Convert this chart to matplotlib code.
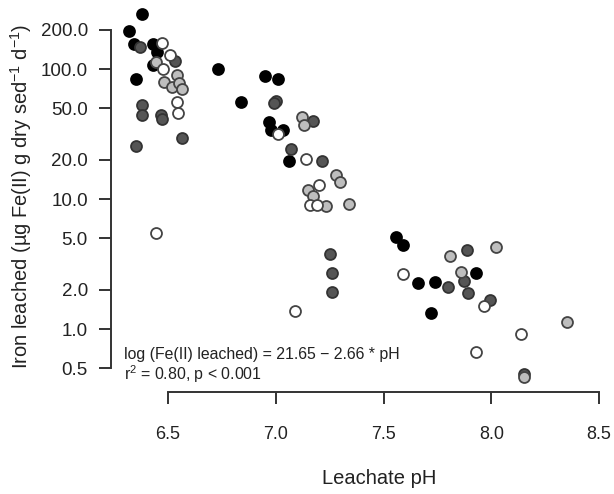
import numpy as np
import matplotlib
matplotlib.use("Agg")
import matplotlib.pyplot as plt
from matplotlib.ticker import FixedLocator, FixedFormatter, NullLocator

plt.rcParams['font.family'] = ['Liberation Sans', 'DejaVu Sans']
plt.rcParams['mathtext.fontset'] = 'custom'
plt.rcParams['mathtext.rm'] = 'Liberation Sans'

# ----- data (pH, Fe(II) leached) -----
black_ph = [6.32, 6.38, 6.34, 6.43, 6.448, 6.43, 6.35, 6.733, 6.95, 7.009, 6.839,
            6.969, 6.978, 7.032, 7.061, 7.558, 7.592, 7.662, 7.739, 7.929, 7.719]
black_fe = [196, 265, 156, 156, 136, 108, 84, 101, 89, 83.5, 56,
            39.5, 34, 34, 19.6, 5.14, 4.44, 2.25, 2.29, 2.69, 1.32]

dark_ph = [6.37, 6.532, 6.378, 6.378, 6.468, 6.472, 6.564, 6.35, 7.0, 6.99, 7.171,
           7.069, 7.213, 7.252, 7.26, 7.26, 7.80, 7.889, 7.873, 7.89, 7.994, 8.15]
dark_fe = [147, 116, 53, 44, 44, 41, 29.7, 25.6, 57, 54.6, 40,
           24.2, 19.6, 3.79, 2.69, 1.92, 2.1, 4.06, 2.35, 1.9, 1.67, 0.45]

light_ph = [6.443, 6.54, 6.48, 6.517, 6.553, 6.564, 7.12, 7.131, 7.278, 7.30, 7.151,
            7.171, 7.232, 7.341, 7.809, 7.86, 8.022, 8.35, 8.15]
light_fe = [113, 90, 79, 73, 78, 70, 43, 37.2, 15.3, 13.6, 11.7,
            10.6, 8.85, 9.2, 3.67, 2.77, 4.3, 1.13, 0.43]

white_ph = [6.47, 6.51, 6.478, 6.54, 6.548, 6.443, 7.012, 7.14, 7.20, 7.159, 7.19,
            7.089, 7.589, 7.968, 8.137, 7.929]
white_fe = [158, 128, 100, 56, 46, 5.5, 31.5, 20.2, 12.8, 9.0, 9.0,
            1.39, 2.64, 1.51, 0.91, 0.67]

x_ticks = [6.5, 7.0, 7.5, 8.0, 8.5]
x_labels = ["6.5", "7.0", "7.5", "8.0", "8.5"]
y_ticks = [0.5, 1, 2, 5, 10, 20, 50, 100, 200]
y_labels = ["0.5", "1.0", "2.0", "5.0", "10.0", "20.0", "50.0", "100.0", "200.0"]

W, H = 614, 494
fig = plt.figure(figsize=(W / 100, H / 100), dpi=100)
ax = fig.add_axes([111 / W, (H - 392) / H, (W - 111) / W, 392 / H])

groups = [(black_ph, black_fe, "#000000", "#000000"),
          (dark_ph, dark_fe, "#555555", "#333333"),
          (light_ph, light_fe, "#bebebe", "#444444"),
          (white_ph, white_fe, "#ffffff", "#444444")]
for xs, ys, fc, ec in groups:
    ax.scatter(xs, ys, s=62, c=fc, edgecolors=ec, linewidths=1.3, zorder=3, clip_on=False)

ax.set_yscale("log")
ax.set_xlim(6.2355, 8.5696)
ax.set_ylim(0.3284, 340.2)

ax.xaxis.set_major_locator(FixedLocator(x_ticks))
ax.xaxis.set_major_formatter(FixedFormatter(x_labels))
ax.yaxis.set_major_locator(FixedLocator(y_ticks))
ax.yaxis.set_major_formatter(FixedFormatter(y_labels))
ax.yaxis.set_minor_locator(NullLocator())

for side in ["top", "right"]:
    ax.spines[side].set_visible(False)
ax.spines["left"].set_bounds(0.5, 200)
ax.spines["bottom"].set_bounds(6.5, 8.5)
for side in ["left", "bottom"]:
    ax.spines[side].set_linewidth(1.4)
    ax.spines[side].set_color("#333333")

ax.tick_params(axis="both", length=8.6, width=1.4, color="#333333",
               labelcolor="#222222")
ax.tick_params(axis="y", pad=8, labelsize=13.5)
ax.tick_params(axis="x", pad=16, labelsize=13)

fig.text(379 / W, 1 - 478 / H, "Leachate pH", ha="center", va="center",
         fontsize=14.5, color="#222222")
fig.text(21 / W, 1 - 196 / H,
         r"Iron leached (µg Fe(II) g dry sed$^{\mathrm{-1}}$ d$^{\mathrm{-1}}$)",
         rotation=90, ha="center", va="center", fontsize=14.5, color="#222222")

fig.text(124 / W, 1 - 355 / H, "log (Fe(II) leached) = 21.65 \u2212 2.66 * pH",
         ha="left", va="center", fontsize=11.4, color="#222222")
fig.text(124 / W, 1 - 374 / H, r"r$^{\mathrm{2}}$ = 0.80, p < 0.001",
         ha="left", va="center", fontsize=11.4, color="#222222")

fig.savefig("out.png", dpi=100)
